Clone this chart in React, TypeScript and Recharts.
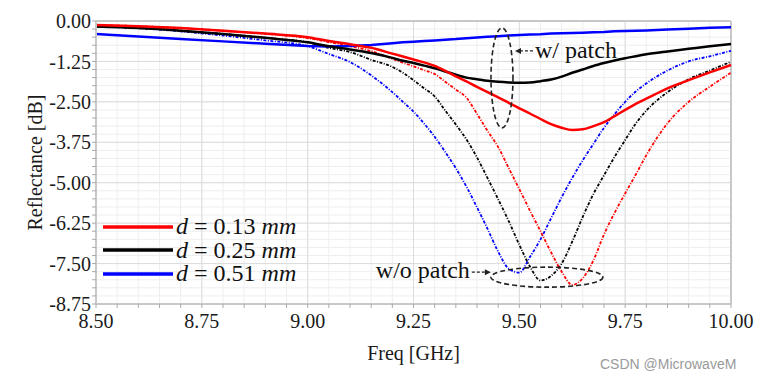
import React from "react";
import {
  LineChart,
  Line,
  XAxis,
  YAxis,
  CartesianGrid,
  ReferenceLine,
  ReferenceDot,
  Legend,
} from "recharts";

// frequency points [GHz]
const freq = [
  8.5, 8.6, 8.7, 8.8, 8.9, 9.0, 9.05, 9.1, 9.15, 9.2, 9.225, 9.25, 9.275, 9.3,
  9.325, 9.35, 9.375, 9.4, 9.425, 9.45, 9.475, 9.5, 9.525, 9.55, 9.575, 9.6,
  9.625, 9.65, 9.675, 9.7, 9.725, 9.75, 9.775, 9.8, 9.85, 9.9, 9.95, 10.0,
];

// with patch (solid)
const withPatch013 = [
  -0.12, -0.16, -0.22, -0.3, -0.39, -0.5, -0.62, -0.72, -0.83, -1.01, -1.1,
  -1.19, -1.28, -1.39, -1.54, -1.71, -1.87, -2.04, -2.2, -2.36, -2.53, -2.7,
  -2.86, -3.03, -3.19, -3.3, -3.37, -3.35, -3.25, -3.13, -2.94, -2.75, -2.56,
  -2.4, -2.08, -1.83, -1.59, -1.36,
];
const withPatch025 = [
  -0.17, -0.22, -0.3, -0.4, -0.52, -0.66, -0.78, -0.88, -0.99, -1.14, -1.23,
  -1.3, -1.38, -1.46, -1.56, -1.66, -1.75, -1.8, -1.85, -1.88, -1.9, -1.91,
  -1.9, -1.86, -1.81, -1.72, -1.6, -1.5, -1.39, -1.3, -1.22, -1.15, -1.09,
  -1.03, -0.94, -0.86, -0.78, -0.71,
];
const withPatch051 = [
  -0.4, -0.48, -0.56, -0.63, -0.7, -0.77, -0.79, -0.77, -0.74, -0.69, -0.66,
  -0.64, -0.62, -0.6, -0.58, -0.56, -0.53, -0.51, -0.49, -0.47, -0.45, -0.43,
  -0.42, -0.41, -0.39, -0.38, -0.37, -0.36, -0.35, -0.34, -0.32, -0.31, -0.3,
  -0.29, -0.26, -0.24, -0.21, -0.19,
];

// without patch (dotted)
const noPatch013 = [
  -0.12, -0.16, -0.22, -0.3, -0.4, -0.53, -0.65, -0.78, -0.93, -1.17, -1.29,
  -1.4, -1.52, -1.64, -1.88, -2.12, -2.37, -2.87, -3.4, -3.9, -4.55, -5.2,
  -5.86, -6.5, -7.15, -7.75, -8.16, -7.95, -7.4, -6.6, -5.93, -5.33, -4.75,
  -4.15, -3.16, -2.5, -2.03, -1.6,
];
const noPatch025 = [
  -0.17, -0.22, -0.3, -0.4, -0.52, -0.66, -0.83, -0.96, -1.2, -1.42, -1.6,
  -1.83, -2.08, -2.33, -2.77, -3.2, -3.66, -4.22, -4.86, -5.51, -6.19, -6.92,
  -7.59, -8.02, -7.88, -7.5, -6.82, -6.05, -5.35, -4.77, -4.2, -3.68, -3.17,
  -2.77, -2.2, -1.8, -1.53, -1.26,
];
const noPatch051 = [
  -0.16, -0.22, -0.32, -0.45, -0.6, -0.78, -1.02, -1.27, -1.68, -2.2, -2.5,
  -2.8, -3.17, -3.58, -4.05, -4.55, -5.12, -5.76, -6.43, -7.13, -7.66, -7.78,
  -7.3, -6.75, -6.1, -5.45, -4.85, -4.3, -3.8, -3.3, -2.88, -2.5, -2.18, -1.93,
  -1.53, -1.25, -1.09, -0.92,
];

const xMajor = [8.5, 8.75, 9.0, 9.25, 9.5, 9.75, 10.0];
const yMajor = [0, -1.25, -2.5, -3.75, -5.0, -6.25, -7.5, -8.75];

const legendItems = [
  { label: "0.13", color: "#ff0000" },
  { label: "0.25", color: "#000000" },
  { label: "0.51", color: "#0000ff" },
];

const serif = "'Liberation Serif', 'Times New Roman', serif";

// split each major interval into 5 minor steps
const withMinor = (major: number[]) => {
  const out: number[] = [];
  for (let i = 0; i < major.length - 1; i++) {
    const a = major[i];
    const b = major[i + 1];
    for (let k = 0; k < 5; k++) out.push(Math.round((a + ((b - a) * k) / 5) * 1000) / 1000);
  }
  out.push(major[major.length - 1]);
  return out;
};

const xTicks = withMinor(xMajor);
const yTicks = withMinor(yMajor);

const isMajor = (v: number, major: number[]) => major.some((m) => Math.abs(m - v) < 1e-6);

const data = freq.map((f, i) => ({
  f,
  w013: withPatch013[i],
  w025: withPatch025[i],
  w051: withPatch051[i],
  n013: noPatch013[i],
  n025: noPatch025[i],
  n051: noPatch051[i],
}));

const dotted = "3 1.5 1 1.5";

function LegendBox() {
  return (
    <div style={{ fontFamily: serif, fontSize: 24, color: "#111", lineHeight: "23.5px" }}>
      {legendItems.map((it) => (
        <div key={it.label} style={{ display: "flex", alignItems: "center", height: 23.5 }}>
          <svg width={70} height={6} style={{ marginRight: 3 }}>
            <line x1={0} y1={3} x2={70} y2={3} stroke={it.color} strokeWidth={3.5} />
          </svg>
          <span>
            <i>d</i> = {it.label} <i>mm</i>
          </span>
        </div>
      ))}
    </div>
  );
}

function WithPatchMark(props: any) {
  const { cx, cy } = props;
  return (
    <g>
      <ellipse cx={cx} cy={cy} rx={11} ry={50} fill="none" stroke="#222" strokeWidth={1.6} strokeDasharray="5 3" />
      <line x1={cx + 31} y1={cy - 27} x2={cx + 18} y2={cy - 27} stroke="#222" strokeWidth={1.3} strokeDasharray="3 2" />
      <path d={`M${cx + 13},${cy - 27} l6,-3 l0,6 z`} fill="#222" />
      <text x={cx + 33} y={cy - 20} fontFamily={serif} fontSize={24} fill="#111">
        w/ patch
      </text>
    </g>
  );
}

function NoPatchMark(props: any) {
  const { cx, cy } = props;
  return (
    <g>
      <ellipse cx={cx} cy={cy} rx={56} ry={10} fill="none" stroke="#222" strokeWidth={1.6} strokeDasharray="5 3" />
      <line x1={cx - 75} y1={cy - 5} x2={cx - 62} y2={cy - 5} stroke="#222" strokeWidth={1.3} strokeDasharray="3 2" />
      <path d={`M${cx - 56},${cy - 5} l-6,-3 l0,6 z`} fill="#222" />
      <text x={cx - 77} y={cy + 1} textAnchor="end" fontFamily={serif} fontSize={24} fill="#111">
        w/o patch
      </text>
    </g>
  );
}

export default function App() {
  const tickStyle = { fontSize: 20, fill: "#1a1a1a", fontFamily: serif };
  return (
    <div style={{ position: "relative", width: 759, height: 380, background: "#fff" }}>
      <style>{`body{margin:0} .chart svg text{font-family:${serif};}`}</style>
      <div className="chart">
        <LineChart
          width={759}
          height={380}
          data={data}
          margin={{ top: 21, right: 28, left: 16, bottom: 0 }}
          style={{ fontFamily: serif }}
        >
          <CartesianGrid
            stroke="#eeeeee"
            strokeWidth={1}
            verticalValues={xTicks}
            horizontalValues={yTicks}
          />
          {xMajor.map((v) => (
            <ReferenceLine key={"vx" + v} x={v} stroke="#dcdcdc" strokeWidth={1} />
          ))}
          {yMajor.map((v) => (
            <ReferenceLine key={"hy" + v} y={v} stroke="#dcdcdc" strokeWidth={1} />
          ))}
          <ReferenceLine y={0} stroke="#c8c8c8" strokeWidth={2} />
          <ReferenceLine x={10} stroke="#c8c8c8" strokeWidth={2} />
          <XAxis
            dataKey="f"
            type="number"
            domain={[8.5, 10]}
            ticks={xTicks}
            interval={0}
            tickFormatter={(v: number) => (isMajor(v, xMajor) ? v.toFixed(2) : "")}
            tick={tickStyle}
            tickSize={4}
            tickMargin={6}
            tickLine={{ stroke: "#aaa" }}
            axisLine={{ stroke: "#c8c8c8", strokeWidth: 2 }}
            height={76}
            label={{
              value: "Freq [GHz]",
              position: "insideBottom",
              offset: 20,
              style: { fontSize: 20, fill: "#1a1a1a", fontFamily: serif },
            }}
          />
          <YAxis
            type="number"
            domain={[-8.75, 0]}
            ticks={yTicks}
            interval={0}
            tickFormatter={(v: number) => (isMajor(v, yMajor) ? v.toFixed(2) : "")}
            tick={tickStyle}
            tickSize={4}
            tickMargin={1}
            tickLine={{ stroke: "#aaa" }}
            axisLine={{ stroke: "#c8c8c8", strokeWidth: 2 }}
            width={80}
            label={{
              value: "Reflectance [dB]",
              angle: -90,
              position: "insideLeft",
              offset: 19,
              style: { fontSize: 20, fill: "#1a1a1a", fontFamily: serif, textAnchor: "middle" },
            }}
          />
          <Line dataKey="n051" stroke="#0000ff" strokeWidth={1.8} strokeDasharray={dotted} dot={false} type="monotone" legendType="none" isAnimationActive={false} />
          <Line dataKey="n025" stroke="#000000" strokeWidth={1.8} strokeDasharray={dotted} dot={false} type="monotone" legendType="none" isAnimationActive={false} />
          <Line dataKey="n013" stroke="#ff0000" strokeWidth={1.8} strokeDasharray={dotted} dot={false} type="monotone" legendType="none" isAnimationActive={false} />
          <Line dataKey="w051" stroke="#0000ff" strokeWidth={2.5} dot={false} type="linear" isAnimationActive={false} />
          <Line dataKey="w025" stroke="#000000" strokeWidth={2.5} dot={false} type="monotone" isAnimationActive={false} />
          <Line dataKey="w013" stroke="#ff0000" strokeWidth={2.5} dot={false} type="monotone" isAnimationActive={false} />
          <ReferenceDot x={9.459} y={-1.76} shape={(p: any) => <WithPatchMark {...p} />} ifOverflow="visible" />
          <ReferenceDot x={9.565} y={-7.92} shape={(p: any) => <NoPatchMark {...p} />} ifOverflow="visible" />
          <Legend
            layout="vertical"
            align="center"
            verticalAlign="middle"
            content={() => <LegendBox />}
            wrapperStyle={{ position: "absolute", left: 103, top: 215, width: "auto", height: "auto" }}
          />
        </LineChart>
      </div>
      <div
        style={{
          position: "absolute",
          left: 600,
          top: 356,
          fontFamily: "'Liberation Sans', Arial, sans-serif",
          fontSize: 14,
          color: "#9a9a9a",
        }}
      >
        CSDN @MicrowaveM
      </div>
    </div>
  );
}
